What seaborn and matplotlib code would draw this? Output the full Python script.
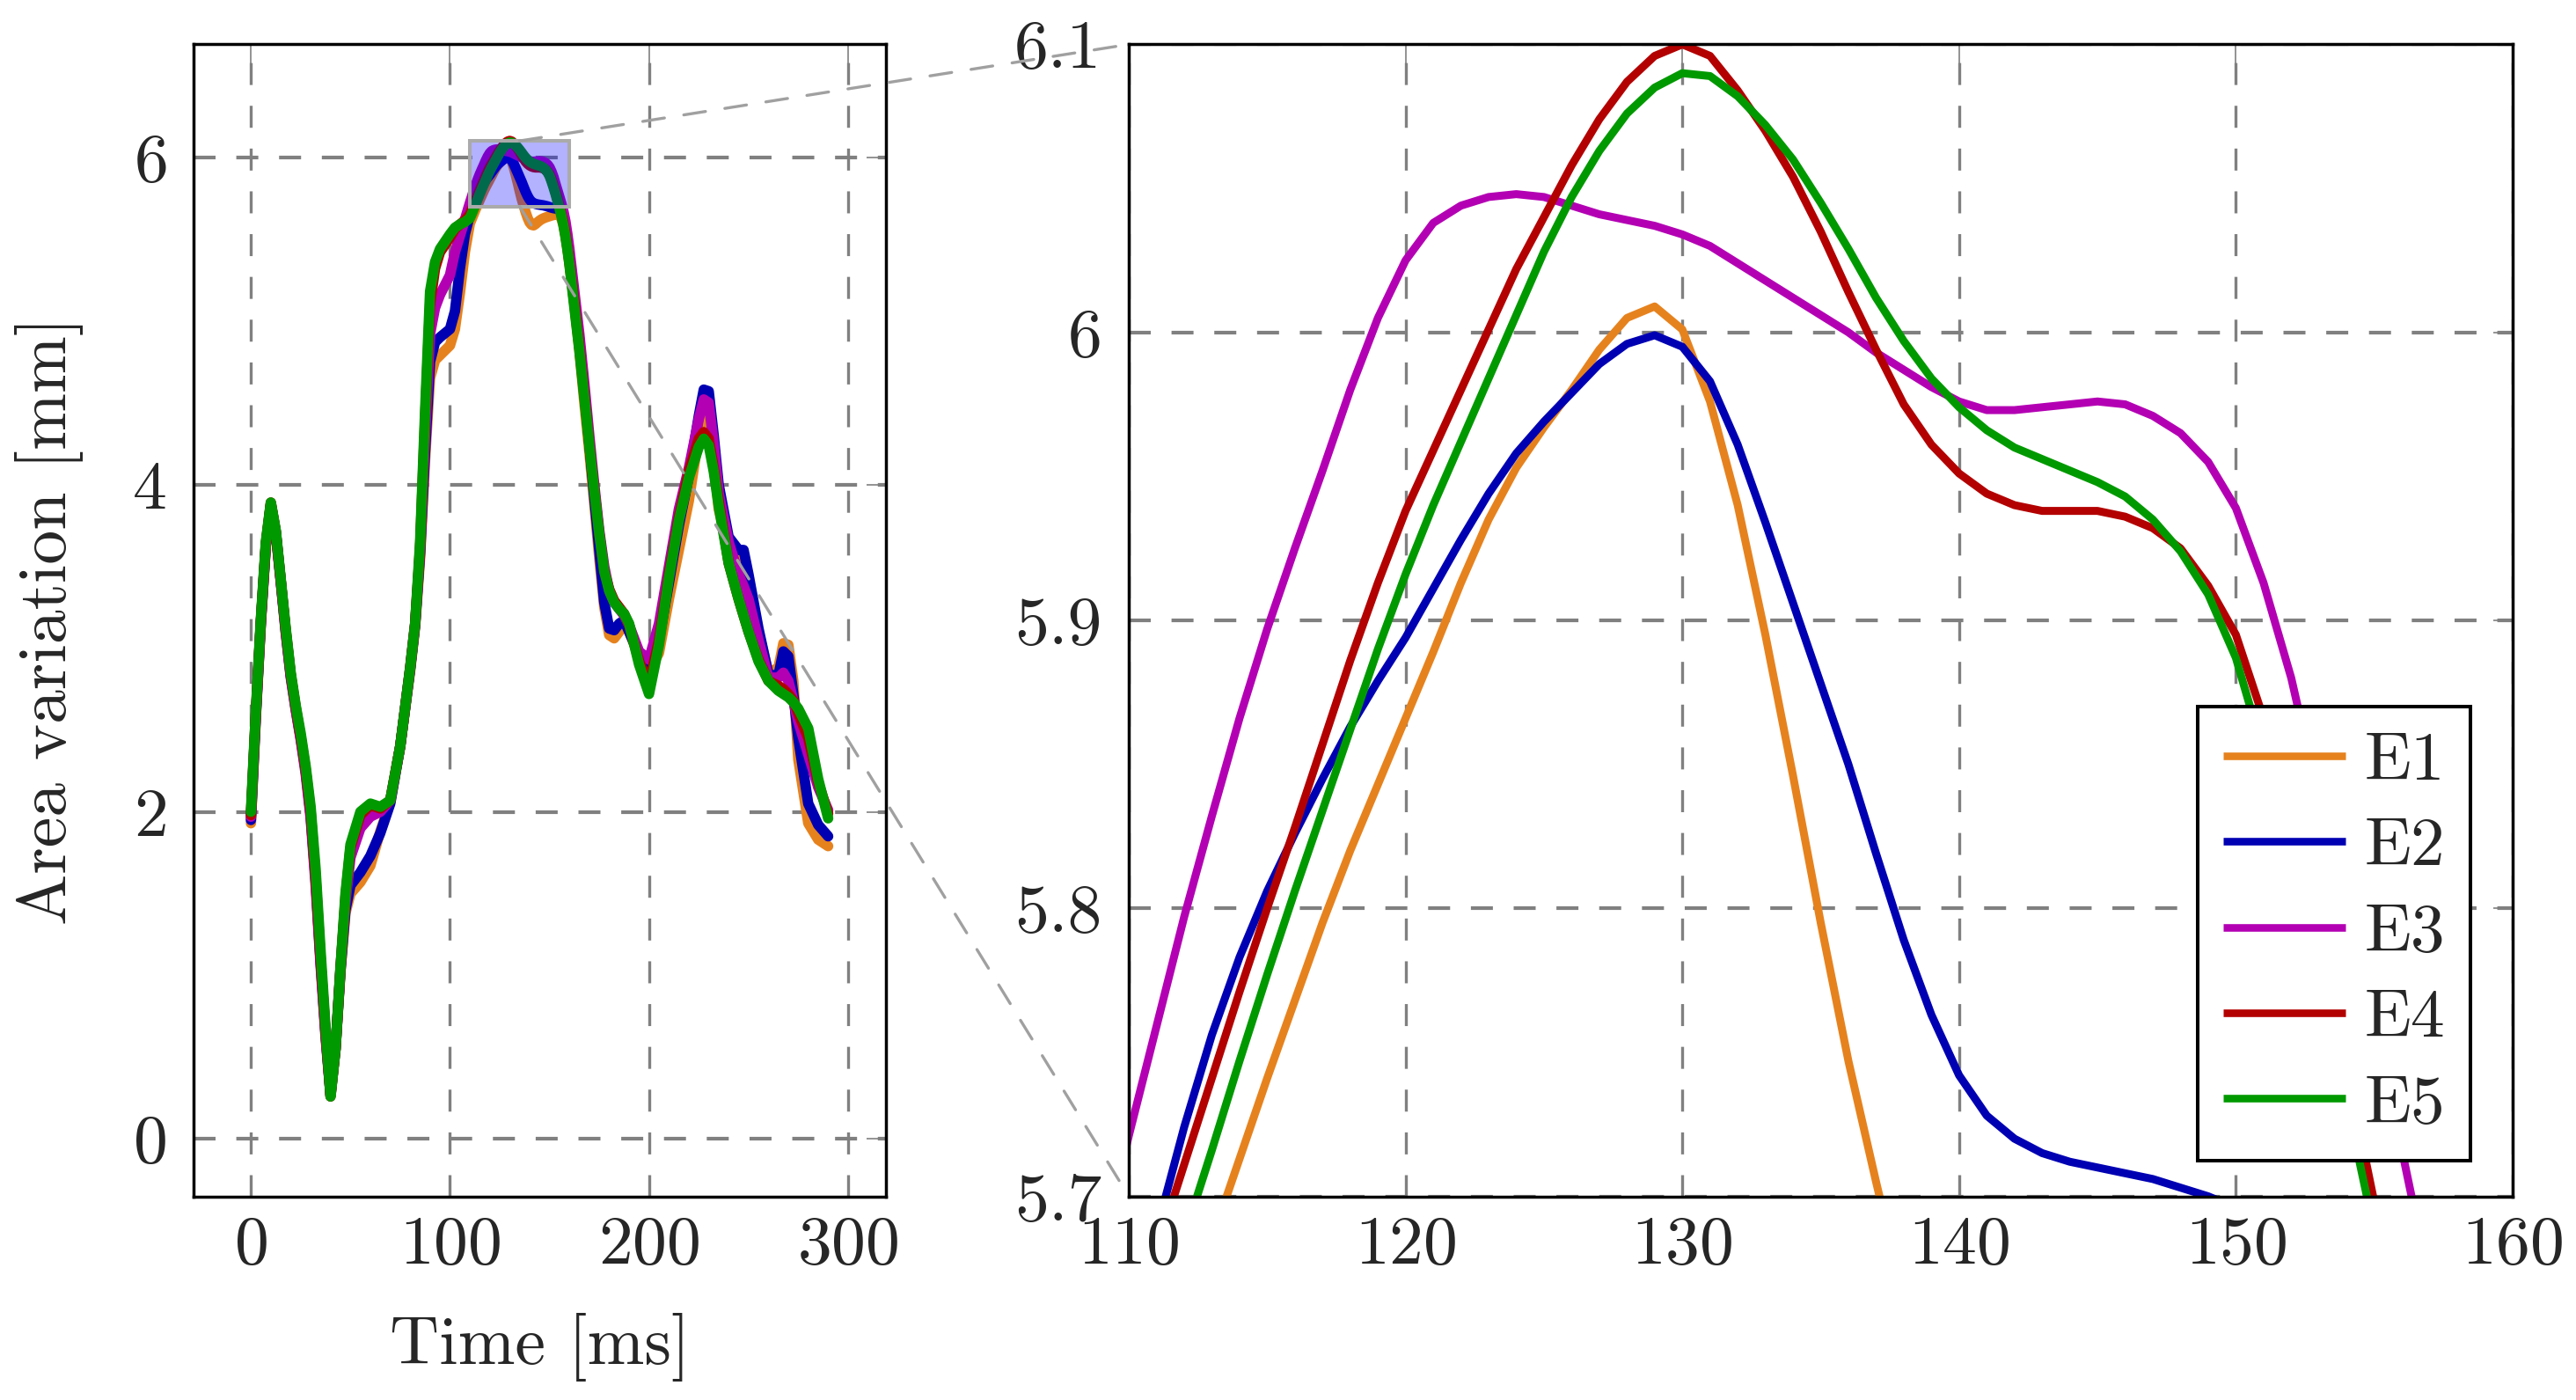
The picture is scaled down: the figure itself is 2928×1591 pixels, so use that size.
import pandas as pd
import matplotlib.pyplot as plt
import seaborn as sns
from matplotlib.patches import Rectangle, ConnectionPatch

# Values (area variation in mm against time in ms)
time_ms = [0, 2.5, 5, 7.5, 10, 12.5, 15, 17.5, 20, 22.5, 25, 27.5, 30, 32.5, 35, 37.5, 40, 42.5, 45, 47.5,
           50, 55, 60, 65, 70, 75, 80, 82.5, 85, 87.5, 90, 92.5, 95, 100, 102.5, 105, 107.5,
           110, 111, 112, 113, 114, 115, 116, 117, 118, 119,
           120, 121, 122, 123, 124, 125, 126, 127, 128, 129,
           130, 131, 132, 133, 134, 135, 136, 137, 138, 139,
           140, 141, 142, 143, 144, 145, 146, 147, 148, 149,
           150, 151, 152, 153, 154, 155, 156, 157, 158, 159, 160,
           162.5, 165, 167.5, 170, 172.5, 175, 177.5, 180, 182.5, 185, 187.5, 190,
           195, 200, 205, 210, 215, 220, 225, 227.5, 230, 232.5, 235, 240, 245, 247.5, 250,
           255, 260, 265, 267.5, 270, 272.5, 275, 280, 285, 290]

e1 = [1.93, 2.58, 3.15, 3.62, 3.88, 3.71, 3.41, 3.10, 2.83, 2.63, 2.45, 2.25, 1.98, 1.58, 1.08, 0.64, 0.28, 0.55, 1.02, 1.38,
      1.50, 1.57, 1.67, 1.88, 2.06, 2.40, 2.86, 3.13, 3.55, 4.15, 4.65, 4.76, 4.79, 4.85, 4.95, 5.17, 5.42,
      5.595, 5.625, 5.655, 5.685, 5.713, 5.741, 5.768, 5.795, 5.820, 5.843,
      5.866, 5.889, 5.913, 5.935, 5.953, 5.967, 5.980, 5.994, 6.005, 6.009,
      6.001, 5.976, 5.940, 5.895, 5.846, 5.795, 5.747, 5.705, 5.665, 5.630,
      5.602, 5.587, 5.584, 5.592, 5.603, 5.613, 5.621, 5.627, 5.632, 5.636,
      5.640, 5.644, 5.647, 5.649, 5.650, 5.645, 5.625, 5.585, 5.520, 5.440, 5.350,
      5.10, 4.82, 4.50, 4.20, 3.88, 3.55, 3.25, 3.08, 3.06, 3.10, 3.15, 3.10,
      2.95, 2.86, 2.97, 3.30, 3.60, 3.90, 4.30, 4.47, 4.45, 4.15, 3.85, 3.60, 3.55, 3.50, 3.35,
      3.10, 2.85, 2.88, 3.03, 3.02, 2.80, 2.32, 1.93, 1.83, 1.79]

e2 = [1.95, 2.59, 3.16, 3.63, 3.88, 3.71, 3.41, 3.10, 2.83, 2.63, 2.45, 2.25, 1.98, 1.58, 1.08, 0.64, 0.27, 0.55, 1.03, 1.40,
      1.55, 1.63, 1.73, 1.87, 2.05, 2.40, 2.87, 3.14, 3.58, 4.20, 4.75, 4.87, 4.90, 4.95, 5.06, 5.32, 5.53,
      5.648, 5.688, 5.724, 5.756, 5.783, 5.806, 5.826, 5.845, 5.863, 5.879,
      5.894, 5.911, 5.928, 5.944, 5.958, 5.969, 5.979, 5.989, 5.996, 5.999,
      5.995, 5.983, 5.961, 5.934, 5.906, 5.878, 5.850, 5.819, 5.789, 5.763,
      5.742, 5.728, 5.720, 5.715, 5.712, 5.710, 5.708, 5.706, 5.703, 5.700,
      5.696, 5.692, 5.689, 5.687, 5.685, 5.683, 5.670, 5.620, 5.550, 5.470, 5.380,
      5.13, 4.88, 4.57, 4.25, 3.92, 3.60, 3.28, 3.12, 3.11, 3.15, 3.17, 3.10,
      2.96, 2.90, 3.05, 3.40, 3.75, 4.05, 4.42, 4.58, 4.57, 4.30, 4.00, 3.68, 3.60, 3.60, 3.45,
      3.12, 2.84, 2.83, 2.98, 2.95, 2.72, 2.45, 2.05, 1.92, 1.85]

e3 = [1.97, 2.60, 3.16, 3.63, 3.88, 3.70, 3.40, 3.09, 2.82, 2.62, 2.44, 2.23, 1.96, 1.55, 1.06, 0.62, 0.27, 0.56, 1.05, 1.45,
      1.72, 1.90, 1.97, 2.00, 2.07, 2.40, 2.88, 3.15, 3.60, 4.30, 4.92, 5.08, 5.16, 5.28, 5.42, 5.52, 5.62,
      5.721, 5.759, 5.797, 5.832, 5.866, 5.897, 5.925, 5.952, 5.980, 6.005,
      6.025, 6.038, 6.044, 6.047, 6.048, 6.047, 6.044, 6.041, 6.039, 6.037,
      6.034, 6.030, 6.024, 6.018, 6.012, 6.006, 6.000, 5.993, 5.987, 5.981,
      5.976, 5.973, 5.973, 5.974, 5.975, 5.976, 5.975, 5.971, 5.965, 5.955,
      5.939, 5.913, 5.880, 5.838, 5.797, 5.757, 5.716, 5.670, 5.610, 5.530, 5.440,
      5.18, 4.92, 4.62, 4.30, 4.00, 3.72, 3.50, 3.35, 3.28, 3.24, 3.20, 3.14,
      2.98, 2.93, 3.15, 3.50, 3.85, 4.10, 4.40, 4.52, 4.50, 4.25, 3.95, 3.65, 3.45, 3.38, 3.30,
      3.05, 2.82, 2.82, 2.85, 2.80, 2.68, 2.55, 2.35, 2.15, 2.01]

e4 = [1.98, 2.61, 3.17, 3.64, 3.89, 3.71, 3.41, 3.11, 2.84, 2.64, 2.46, 2.26, 2.00, 1.60, 1.10, 0.65, 0.26, 0.55, 1.04, 1.48,
      1.78, 1.98, 2.04, 2.02, 2.07, 2.40, 2.88, 3.15, 3.62, 4.40, 5.10, 5.32, 5.42, 5.51, 5.56, 5.59, 5.615,
      5.651, 5.681, 5.711, 5.741, 5.771, 5.800, 5.828, 5.857, 5.886, 5.913,
      5.938, 5.959, 5.980, 6.001, 6.022, 6.040, 6.058, 6.074, 6.087, 6.096,
      6.100, 6.096, 6.084, 6.070, 6.054, 6.035, 6.014, 5.994, 5.975, 5.961,
      5.951, 5.944, 5.940, 5.938, 5.938, 5.938, 5.936, 5.932, 5.925, 5.912,
      5.895, 5.866, 5.830, 5.788, 5.745, 5.698, 5.650, 5.600, 5.530, 5.450, 5.360,
      5.11, 4.84, 4.55, 4.25, 3.97, 3.70, 3.47, 3.36, 3.29, 3.25, 3.21, 3.14,
      2.92, 2.78, 3.05, 3.45, 3.80, 4.08, 4.28, 4.32, 4.28, 4.10, 3.90, 3.52, 3.30, 3.20, 3.10,
      2.93, 2.80, 2.77, 2.75, 2.72, 2.68, 2.60, 2.45, 2.18, 1.99]

e5 = [2.00, 2.62, 3.18, 3.65, 3.89, 3.72, 3.42, 3.12, 2.85, 2.65, 2.48, 2.28, 2.03, 1.65, 1.15, 0.68, 0.26, 0.55, 1.05, 1.50,
      1.80, 2.00, 2.05, 2.03, 2.07, 2.40, 2.88, 3.15, 3.65, 4.45, 5.18, 5.36, 5.44, 5.53, 5.57, 5.59, 5.605,
      5.628, 5.656, 5.686, 5.716, 5.747, 5.777, 5.806, 5.834, 5.862, 5.890,
      5.916, 5.940, 5.962, 5.984, 6.006, 6.028, 6.047, 6.063, 6.076, 6.085,
      6.090, 6.089, 6.082, 6.072, 6.060, 6.045, 6.029, 6.012, 5.997, 5.984,
      5.974, 5.966, 5.960, 5.956, 5.952, 5.948, 5.943, 5.935, 5.924, 5.909,
      5.887, 5.854, 5.817, 5.777, 5.733, 5.688, 5.640, 5.585, 5.515, 5.435, 5.345,
      5.08, 4.82, 4.53, 4.24, 3.96, 3.70, 3.47, 3.35, 3.28, 3.24, 3.21, 3.15,
      2.90, 2.72, 3.02, 3.43, 3.78, 4.04, 4.23, 4.28, 4.24, 4.08, 3.87, 3.52, 3.30, 3.20, 3.10,
      2.92, 2.80, 2.74, 2.72, 2.70, 2.67, 2.63, 2.51, 2.20, 1.96]

runs = ['E1', 'E2', 'E3', 'E4', 'E5']
colors = ['#e6821e', '#0000b3', '#b300b3', '#b30000', '#009900']

zoom_x = (110, 160)
zoom_y = (5.7, 6.1)
left_xticks = [0, 100, 200, 300]
left_yticks = [0, 2, 4, 6]
right_xticks = [110, 120, 130, 140, 150, 160]
right_yticks = [5.7, 5.8, 5.9, 6.0, 6.1]
right_ylabels = ['5.7', '5.8', '5.9', '6', '6.1']

df = pd.DataFrame({
    'time': time_ms * 5,
    'area': e1 + e2 + e3 + e4 + e5,
    'run': [r for r in runs for _ in time_ms],
})

sns.set_style('white')
plt.rcParams['font.family'] = ['cmr10', 'DejaVu Serif']
plt.rcParams['mathtext.fontset'] = 'cm'
plt.rcParams['axes.formatter.use_mathtext'] = True
plt.rcParams['lines.scale_dashes'] = False

FS = 56
palette = dict(zip(runs, colors))

fig = plt.figure(figsize=(29.28, 15.91), dpi=100)
ax1 = fig.add_axes([0.075, 0.1455, 0.2689, 0.8228])
ax2 = fig.add_axes([0.4382, 0.1455, 0.5372, 0.8228])

sns.lineplot(data=df, x='time', y='area', hue='run', hue_order=runs, palette=palette,
             estimator=None, sort=False, legend=False, linewidth=8.5, ax=ax1)
sns.lineplot(data=df, x='time', y='area', hue='run', hue_order=runs, palette=palette,
             estimator=None, sort=False, legend=False, linewidth=6.5, ax=ax2)
for ax in (ax1, ax2):
    for ln in ax.lines:
        ln.set_solid_joinstyle('round')
        ln.set_solid_capstyle('round')

for ax in (ax1, ax2):
    ax.set_axisbelow(True)
    ax.xaxis.grid(True, color='#808080', linewidth=2.4, linestyle=(0, (18, 17)))
    ax.yaxis.grid(True, color='#808080', linewidth=3.0, linestyle=(0, (18, 17)))
    ax.tick_params(axis='both', direction='in', length=16, width=1.2, color='#808080',
                   top=True, right=True, labelsize=FS)
    ax.tick_params(axis='y', pad=22)
    ax.tick_params(axis='x', pad=16)
    for s in ax.spines.values():
        s.set_linewidth(2.5)
        s.set_color('black')
    ax.set_xlabel('')
    ax.set_ylabel('')

ax1.set_xlim(-29, 319)
ax1.set_ylim(-0.35, 6.69)
ax1.set_xticks(left_xticks)
ax1.set_yticks(left_yticks)
ax1.set_xlabel('Time [ms]', fontsize=FS)
ax1.set_ylabel('Area variation [mm]', fontsize=FS)
ax1.xaxis.set_label_coords(0.5, -0.101)
ax1.yaxis.set_label_coords(-0.158, 0.5)

ax2.set_xlim(*zoom_x)
ax2.set_ylim(*zoom_y)
ax2.set_xticks(right_xticks)
ax2.set_yticks(right_yticks)
ax2.set_yticklabels(right_ylabels)

# zoom box on the overview panel
ax1.add_patch(Rectangle((zoom_x[0], zoom_y[0]), zoom_x[1] - zoom_x[0], zoom_y[1] - zoom_y[0],
                        facecolor=(0, 0, 1, 0.3), edgecolor='#aaaaaa', linewidth=2.9, zorder=3))

# dashed connectors from the box to the zoomed panel corners
mid_x = (zoom_x[0] + zoom_x[1]) / 2
for yv in zoom_y:
    con = ConnectionPatch(xyA=(mid_x, yv), coordsA=ax1.transData,
                          xyB=(zoom_x[0], yv), coordsB=ax2.transData,
                          color='#a0a0a0', linewidth=2.4, linestyle=(0, (18, 16)))
    fig.add_artist(con)

leg = ax2.legend(ax2.lines[:5], runs, loc='lower right', bbox_to_anchor=(0.9695, 0.0306),
                 borderaxespad=0, fontsize=FS, frameon=True, fancybox=False, framealpha=1,
                 edgecolor='black', handlelength=1.79, handletextpad=0.27, borderpad=0.37,
                 labelspacing=0.36)
leg.get_frame().set_linewidth(2.9)
for h in leg.get_lines():
    h.set_linewidth(6.2)
    h.set_solid_capstyle('butt')

fig.savefig('out.png', dpi=100)
